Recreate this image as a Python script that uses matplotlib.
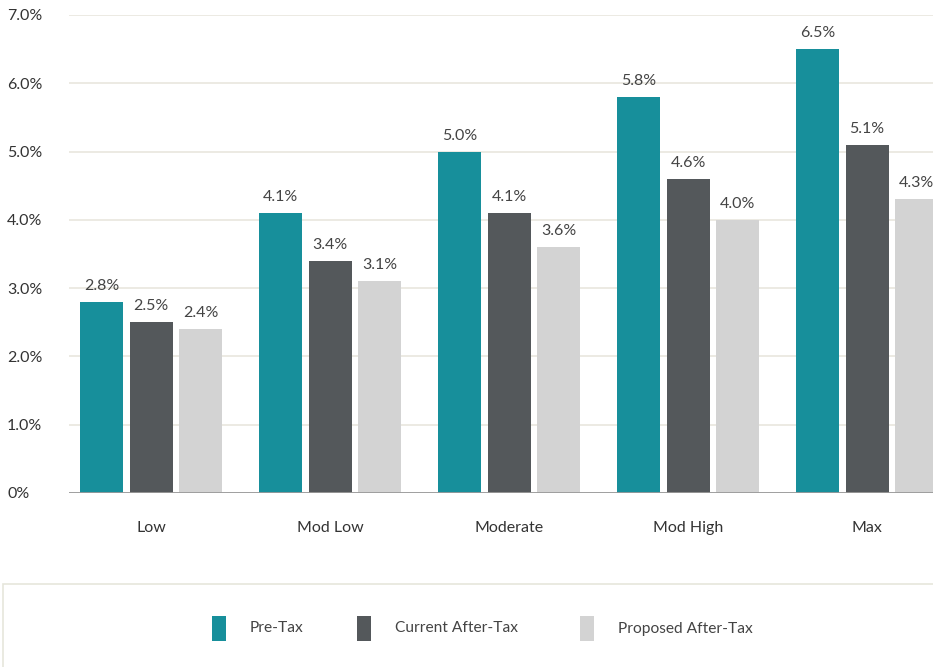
import numpy as np
import matplotlib.pyplot as plt
from matplotlib.patches import Rectangle
from matplotlib.ticker import FuncFormatter

plt.rcParams['font.family'] = ['Lato', 'DejaVu Sans']

categories = ['Low', 'Mod Low', 'Moderate', 'Mod High', 'Max']
series_names = ['Pre-Tax', 'Current After-Tax', 'Proposed After-Tax']
pre_tax = [2.8, 4.1, 5.0, 5.8, 6.5]
current_after_tax = [2.5, 3.4, 4.1, 4.6, 5.1]
proposed_after_tax = [2.4, 3.1, 3.6, 4.0, 4.3]
y_ticks = [0, 1, 2, 3, 4, 5, 6, 7]

colors = ['#178f9b', '#54585b', '#d3d3d3']
text_color = '#444444'
W, H = 933, 667

fig = plt.figure(figsize=(W / 100, H / 100), dpi=100)
ax = fig.add_axes([69 / W, (H - 493) / H, (949 - 69) / W, (493 - 15) / H])

x = np.arange(len(categories))
offset = 49.5 / 179
width = 43 / 179
for i, vals in enumerate([pre_tax, current_after_tax, proposed_after_tax]):
    pos = x + (i - 1) * offset
    ax.bar(pos, vals, width=width, color=colors[i], zorder=3)
    for px, v in zip(pos, vals):
        ax.annotate(f'{v:.1f}%', (px, v), xytext=(0, 6.5), textcoords='offset points',
                    ha='center', va='bottom', fontsize=11.5, color=text_color)

ax.set_xlim(-82 / 179, 4 + 82 / 179)
ax.set_ylim(0, 7)
ax.set_yticks(y_ticks)
ax.yaxis.set_major_formatter(FuncFormatter(lambda v, _: '0%' if v == 0 else f'{v:.1f}%'))
ax.tick_params(axis='y', length=0, pad=44.6, labelsize=11.5, labelcolor='#333333')
for lbl in ax.get_yticklabels():
    lbl.set_horizontalalignment('left')
ax.set_xticks(x)
ax.set_xticklabels(categories)
ax.tick_params(axis='x', length=0, pad=20, labelsize=11.5, labelcolor='#333333')

ax.grid(axis='y', color='#ebe8e1', linewidth=1.3, zorder=0)
ax.axhline(0, color='#9a9a9a', linewidth=1.3, zorder=4)
for s in ax.spines.values():
    s.set_visible(False)

# legend panel
fig.patches.append(Rectangle((3 / W, -0.05), 1.0, (H - 584) / H + 0.05,
                             transform=fig.transFigure, facecolor='white',
                             edgecolor='#e6e6dc', linewidth=1.2))
legend_x = [212, 357, 580]
for lx, name, c in zip(legend_x, series_names, colors):
    fig.patches.append(Rectangle((lx / W, (H - 641) / H), 14 / W, 25 / H,
                                 transform=fig.transFigure, facecolor=c, edgecolor='none'))
    fig.text((lx + 38) / W, (H - 628.5) / H, name, ha='left', va='center',
             fontsize=11.2, color=text_color)

fig.savefig('out.png', dpi=100)
